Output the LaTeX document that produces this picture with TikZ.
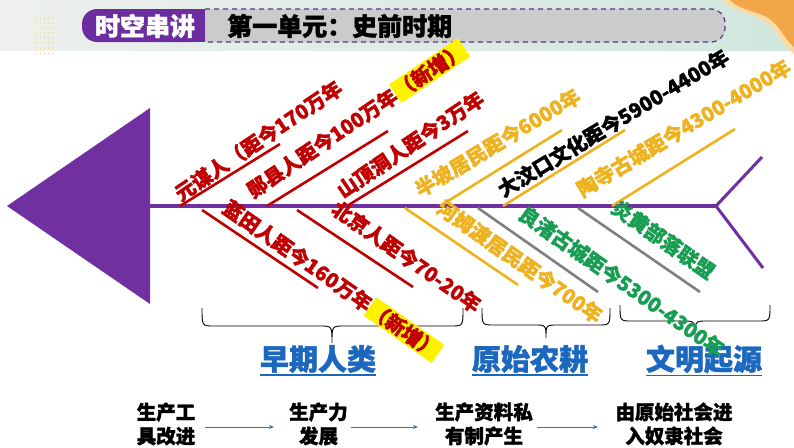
\documentclass[tikz,border=0pt]{standalone}
\usepackage{fontspec}
\setmainfont{Noto Sans CJK SC}[BoldFeatures={FakeBold=1.5}]
\usetikzlibrary{arrows.meta}
\definecolor{myred}{RGB}{192,0,0}
\definecolor{mygold}{RGB}{238,178,30}
\definecolor{mygreen}{RGB}{24,158,82}
\definecolor{mygray}{RGB}{128,128,128}
\definecolor{mypurple}{RGB}{112,48,160}
\definecolor{myblue}{RGB}{28,104,190}
\definecolor{tabpurple}{RGB}{107,45,160}
\definecolor{boxgray}{RGB}{203,203,203}
\definecolor{dashpurple}{RGB}{85,55,140}
\definecolor{arrblue}{RGB}{46,117,182}
\definecolor{blobor}{RGB}{242,166,72}
\definecolor{blobedge}{RGB}{250,218,165}
\definecolor{bandl}{RGB}{238,240,238}
\definecolor{bandr}{RGB}{208,231,221}
\definecolor{dotc}{RGB}{238,222,160}
\setlength{\fboxsep}{1.5pt}
\begin{document}
\begin{tikzpicture}[x=1pt,y=-1pt,
  btxt/.style={inner sep=0pt, anchor=west, font=\fontsize{20}{24}\selectfont\bfseries},
  upr/.style={btxt, rotate=34},
  upo/.style={btxt, rotate=31},
  lwr/.style={btxt, rotate=-35},
  branch/.style={line width=2.6pt},
  bracel/.style={line width=0.9pt, black},
  cat/.style={inner sep=0pt, text=myblue, font=\fontsize{29}{32}\selectfont\bfseries},
  uline/.style={myblue, line width=1.6pt},
  step2/.style={inner sep=0pt, align=center, font=\fontsize{19.5}{24}\selectfont\bfseries},
  arr/.style={arrblue, line width=0.9pt, -{Stealth[length=5pt,width=4pt]}}
]
\useasboundingbox (0,0) rectangle (794,447);
\fill[white] (0,0) rectangle (794,447);
% header band
\shade[left color=bandl, right color=bandr] (0,0) rectangle (794,50);
\foreach \i in {0,...,4} \foreach \j in {0,...,7}
  \fill[dotc] (36+\i*4.2, 18+\j*5) circle (0.9);
\fill[blobedge] (722,0) .. controls (734,12) and (750,12) .. (765,22) .. controls (778,30) and (782,46) .. (794,54) -- (794,0) -- cycle;
\fill[blobor] (730,0) .. controls (740,10) and (752,10) .. (767,17) .. controls (780,25) and (785,40) .. (794,47) -- (794,0) -- cycle;
% title box
\fill[boxgray, rounded corners=14] (190,9) rectangle (725,42);
\draw[dashpurple, line width=1.2pt, dash pattern=on 5pt off 4pt, rounded corners=14] (205,9) -- (725,9) -- (725,42) -- (205,42);
\fill[tabpurple, rounded corners=15] (82,9) rectangle (205,42);
\fill[tabpurple] (150,9) rectangle (205,42);
\node[inner sep=0pt, text=white, font=\fontsize{25}{28}\selectfont\bfseries] (tab) at (145,26) {时空串讲};
\node[inner sep=0pt, anchor=west, font=\fontsize{25}{28}\selectfont\bfseries] (title) at (227,26) {第一单元：史前时期};
% fish head and spine
\fill[mypurple] (7,206) -- (150,108) -- (150,304) -- cycle;
\coordinate (sp0) at (150,206);
\coordinate (sp1) at (716,206);
\coordinate (fu) at (762,157);
\coordinate (fd) at (763,268);
\draw[mypurple, line width=3.6pt] (sp0) -- (sp1);
\draw[mypurple, line width=3pt] (fu) -- (sp1) -- (fd);
% upper branches
\coordinate (u1s) at (180,206); \coordinate (u1e) at (280,144);
\coordinate (u2s) at (267,206); \coordinate (u2e) at (388,131);
\coordinate (u3s) at (347,206); \coordinate (u3e) at (468,131);
\coordinate (u4s) at (440,206); \coordinate (u4e) at (562,130);
\coordinate (u5s) at (503,206); \coordinate (u5e) at (625,130);
\coordinate (u6s) at (612,206); \coordinate (u6e) at (735,129);
\draw[branch, myred] (u1s) -- (u1e);
\draw[branch, myred] (u2s) -- (u2e);
\draw[branch, myred] (u3s) -- (u3e);
\draw[branch, mygold] (u4s) -- (u4e);
\draw[branch, mygold] (u5s) -- (u5e);
\draw[branch, mygold] (u6s) -- (u6e);
% lower branches
\coordinate (l1s) at (202,210); \coordinate (l1e) at (318,288);
\coordinate (l2s) at (297,210); \coordinate (l2e) at (413,287);
\coordinate (l3s) at (405,208); \coordinate (l3e) at (518,285);
\coordinate (l4s) at (478,208); \coordinate (l4e) at (598,292);
\coordinate (l5s) at (578,208); \coordinate (l5e) at (700,292);
\draw[branch, myred] (l1s) -- (l1e);
\draw[branch, myred] (l2s) -- (l2e);
\draw[branch, mygold] (l3s) -- (l3e);
\draw[branch, mygray] (l4s) -- (l4e);
\draw[branch, mygray] (l5s) -- (l5e);
% braces
\draw[bracel] (202,308) .. controls (202,326) .. (214,326) -- (320,326) .. controls (332,326) .. (332,343) .. controls (332,326) .. (344,326) -- (451,326) .. controls (463,326) .. (463,308);
\draw[bracel] (482,308) .. controls (482,325) .. (494,325) -- (534,325) .. controls (546,325) .. (546,338) .. controls (546,325) .. (558,325) -- (598,325) .. controls (610,325) .. (610,308);
\draw[bracel] (620,305) .. controls (620,321) .. (632,321) -- (683,321) .. controls (695,321) .. (695,338) .. controls (695,321) .. (707,321) -- (758,321) .. controls (770,321) .. (770,305);
% category labels
\node[cat] (c1) at (318,359) {早期人类};
\node[cat] (c2) at (530,359) {原始农耕};
\node[cat] (c3) at (704,359) {文明起源};
\draw[uline] ([yshift=-2pt]c1.south west) -- ([yshift=-2pt]c1.south east);
\draw[uline] ([yshift=-2pt]c2.south west) -- ([yshift=-2pt]c2.south east);
\draw[uline] ([yshift=-2pt]c3.south west) -- ([yshift=-2pt]c3.south east);
% upper texts
\node[upr, text=myred] (t1) at (176.7,195.6) {元谋人（距今170万年};
\node[upr, text=myred] (t2) at (248.7,192.6) {郧县人距今100万年\colorbox{yellow}{（新增）}};
\node[upr, text=myred] (t3) at (338.7,192.6) {山顶洞人距今3万年};
\node[upo, text=mygold] (t4) at (416.4,191.2) {半坡居民距今6000年};
\node[upo, text=black] (t5) at (499.4,191.2) {大汶口文化距今5900-4400年};
\node[upo, text=mygold] (t6) at (578.4,191.2) {陶寺古城距今4300-4000年};
% lower texts
\node[lwr, text=myred] (b1) at (225.2,205) {蓝田人距今160万年\colorbox{yellow}{（新增）}};
\node[lwr, text=myred] (b2) at (334.2,206) {北京人距今70-20年};
\node[lwr, text=mygold] (b3) at (439.2,205) {河姆渡居民距今700年};
\node[lwr, text=mygreen] (b4) at (521.2,211) {良渚古城距今5300-4300年};
\node[lwr, text=mygreen] (b5) at (614.2,205) {炎黄部落联盟};
% bottom chain
\node[step2] (n1) at (166,424) {生产工\\具改进};
\node[step2] (n2) at (318.5,424) {生产力\\发展};
\node[step2] (n3) at (484,424) {生产资料私\\有制产生};
\node[step2] (n4) at (674,424) {由原始社会进\\入奴隶社会};
\coordinate (a1s) at (205,427); \coordinate (a1e) at (274,427);
\coordinate (a2s) at (351,427); \coordinate (a2e) at (418,427);
\coordinate (a3s) at (537,427); \coordinate (a3e) at (598,427);
\draw[arr] (a1s) -- (a1e);
\draw[arr] (a2s) -- (a2e);
\draw[arr] (a3s) -- (a3e);
\end{tikzpicture}
\end{document}
